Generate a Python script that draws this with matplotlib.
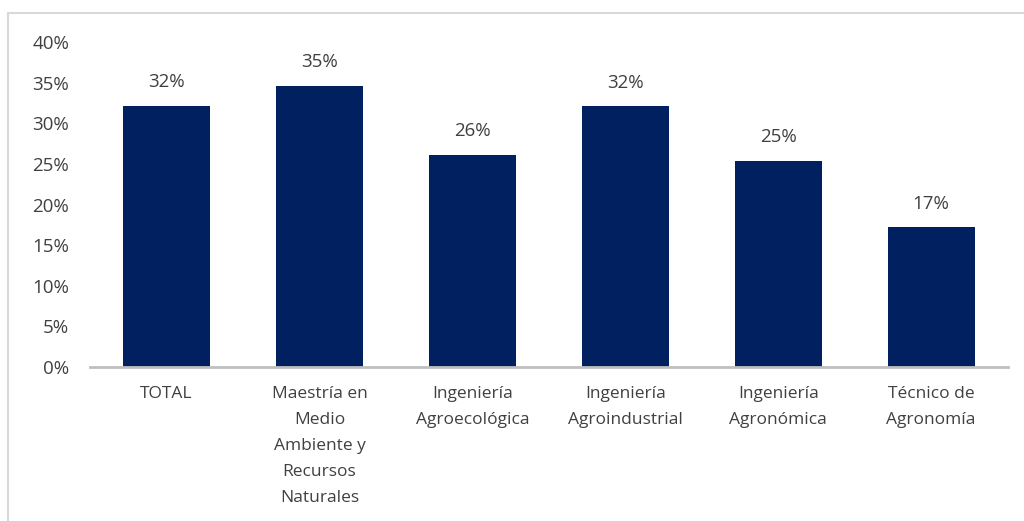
import matplotlib.pyplot as plt
from matplotlib.patches import Rectangle
from matplotlib.ticker import PercentFormatter, MultipleLocator

programas = ["TOTAL", "Maestría en\nMedio\nAmbiente y\nRecursos\nNaturales",
             "Ingeniería\nAgroecológica", "Ingeniería\nAgroindustrial",
             "Ingeniería\nAgronómica", "Técnico de\nAgronomía"]
valores = [0.322, 0.346, 0.261, 0.321, 0.254, 0.172]

azul = "#002060"
gris_texto = "#404040"

plt.rcParams["font.family"] = ["Open Sans", "DejaVu Sans"]

fig = plt.figure(figsize=(10.24, 5.21), dpi=100)
ax = fig.add_axes([0.088, 0.2956, 0.896, 0.6234])

# marco gris claro alrededor del gráfico
fig.patches.append(Rectangle((8 / 1024, -0.05), 1.1, 0.05 + (521 - 13) / 521,
                             transform=fig.transFigure, fill=False,
                             edgecolor="#d9d9d9", linewidth=1.5))

x = range(len(programas))
barras = ax.bar(x, valores, width=0.57, color=azul)

for b, v in zip(barras, valores):
    ax.text(b.get_x() + b.get_width() / 2, v + 0.018, f"{v:.0%}",
            ha="center", va="bottom", fontsize=13.5, color=gris_texto)

ax.set_xlim(-0.5, len(programas) - 0.5)
ax.set_ylim(0, 0.40)
ax.yaxis.set_major_locator(MultipleLocator(0.05))
ax.yaxis.set_major_formatter(PercentFormatter(1.0, decimals=0))
ax.set_xticks(list(x))
ax.set_xticklabels(programas, fontsize=12.5, color=gris_texto, linespacing=1.83)
ax.tick_params(axis="y", labelsize=13.5, colors=gris_texto, length=0, pad=15)
ax.tick_params(axis="x", length=0, pad=14)

for lado in ["top", "right", "left"]:
    ax.spines[lado].set_visible(False)
ax.spines["bottom"].set_color("#bfbfbf")
ax.spines["bottom"].set_linewidth(2)

fig.savefig("out.png", dpi=100)
